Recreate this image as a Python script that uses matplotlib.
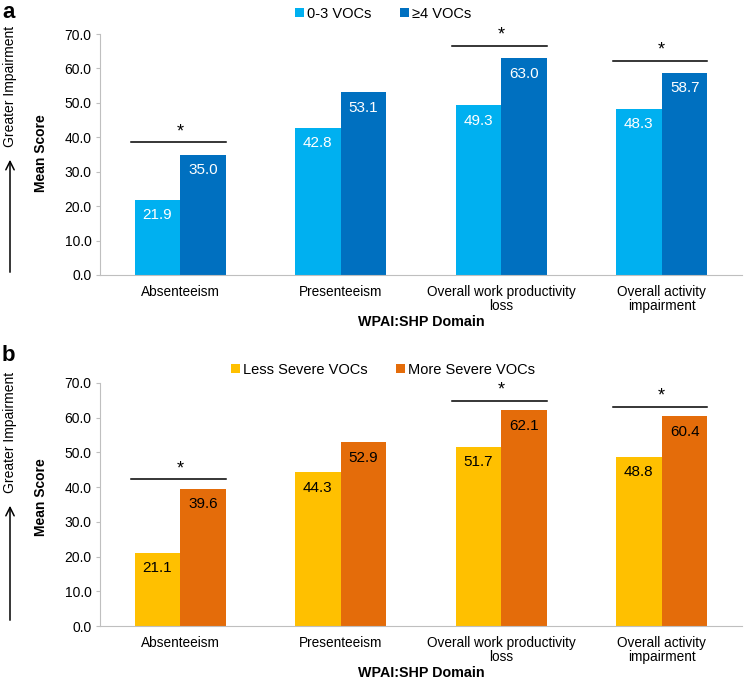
import matplotlib
matplotlib.use("Agg")
import matplotlib.pyplot as plt
import numpy as np

plt.rcParams['font.family'] = ['Liberation Sans', 'DejaVu Sans']

# data
domains = ['Absenteeism', 'Presenteeism', 'Overall work productivity\nloss',
           'Overall activity\nimpairment']
series_a = ['0-3 VOCs', '\u22654 VOCs']
low_a = [21.9, 42.8, 49.3, 48.3]
high_a = [35.0, 53.1, 63.0, 58.7]
series_b = ['Less Severe VOCs', 'More Severe VOCs']
low_b = [21.1, 44.3, 51.7, 48.8]
high_b = [39.6, 52.9, 62.1, 60.4]
signif_a = [True, False, True, True]
signif_b = [True, False, True, True]
yticks = [0, 10, 20, 30, 40, 50, 60, 70]

W, H = 744, 681
fig = plt.figure(figsize=(W / 100, H / 100), dpi=100)


def px(x0, y0, x1, y1):
    # pixel box -> figure fraction [left, bottom, width, height]
    return [x0 / W, 1 - y1 / H, (x1 - x0) / W, (y1 - y0) / H]


def panel(box, low, high, names, colors, txtcol, signif, gap, letter,
          letter_y, leg_y, gi_y, arrow_y, ms_y):
    ax = fig.add_axes(px(*box))
    x = np.arange(len(domains))
    bw = 0.285
    b1 = ax.bar(x - bw / 2, low, bw, color=colors[0], label=names[0])
    b2 = ax.bar(x + bw / 2, high, bw, color=colors[1], label=names[1])
    for bars in (b1, b2):
        for r in bars:
            ax.text(r.get_x() + r.get_width() / 2, r.get_height() - 4.5,
                    f'{r.get_height():.1f}', ha='center', va='center',
                    color=txtcol, fontsize=11)
    for i, s in enumerate(signif):
        if s:
            yl = max(low[i], high[i]) + gap
            ax.plot([i - bw - 0.02, i + bw], [yl, yl], color='black', lw=1.1,
                    clip_on=False)
            ax.text(i, yl + 0.5, '*', ha='center', va='bottom', fontsize=13)
    ax.set_xlim(-0.5, 3.5)
    ax.set_ylim(0, 70)
    ax.set_yticks(yticks)
    ax.set_yticklabels([f'{v:.1f}' for v in yticks], fontsize=10)
    ax.set_xticks(x)
    ax.set_xticklabels(domains, fontsize=9.8, linespacing=1.05)
    ax.tick_params(axis='x', length=0, pad=7)
    ax.tick_params(axis='y', length=3, color='#BFBFBF', pad=3)
    for sp in ('top', 'right'):
        ax.spines[sp].set_visible(False)
    for sp in ('left', 'bottom'):
        ax.spines[sp].set_color('#BFBFBF')
    ax.set_xlabel('WPAI:SHP Domain', fontsize=10.3, fontweight='bold',
                  labelpad=1)
    ax.legend(loc='center', bbox_to_anchor=((383 - box[0]) / (box[2] - box[0]),
              1 + (box[1] - leg_y) / (box[3] - box[1])),
              ncol=2, frameon=False, fontsize=10.5, handlelength=0.6,
              handleheight=0.6, handletextpad=0.2, columnspacing=2.0)
    fig.text(2 / W, 1 - letter_y / H, letter, fontsize=16, fontweight='bold',
             va='center', ha='left')
    fig.text(10 / W, 1 - gi_y / H, 'Greater Impairment', rotation=90,
             fontsize=10, ha='center', va='center')
    fig.text(41 / W, 1 - ms_y / H, 'Mean Score', rotation=90, fontsize=10,
             fontweight='bold', ha='center', va='center')
    fig.add_artist(matplotlib.patches.FancyArrowPatch(
        (10 / W, 1 - arrow_y[0] / H), (10 / W, 1 - arrow_y[1] / H),
        transform=fig.transFigure, arrowstyle='->', mutation_scale=15,
        color='black', lw=1.1))
    return ax


panel((100, 34, 742, 275), low_a, high_a, series_a, ['#00B0F0', '#0070C0'],
      'white', signif_a, 3.6, 'a', 13, 14, 86, (275, 157), 153)
panel((100, 383, 742, 626), low_b, high_b, series_b, ['#FFC000', '#E46C0A'],
      'black', signif_b, 2.8, 'b', 356, 370, 432, (623, 503), 497)

fig.savefig('out.png', dpi=100)
